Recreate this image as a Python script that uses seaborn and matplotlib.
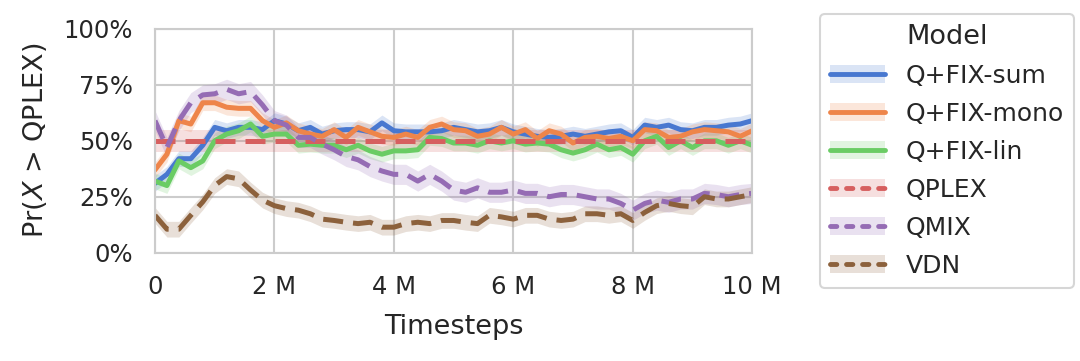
import numpy as np
import pandas as pd
import matplotlib
matplotlib.use("Agg")
import matplotlib.pyplot as plt
import seaborn as sns
from matplotlib.lines import Line2D
from matplotlib.patches import Patch
from matplotlib.ticker import FuncFormatter, PercentFormatter

# ---- data ----
timesteps_m = [round(0.2 * i, 1) for i in range(51)]  # millions

qfix_sum = [0.31, 0.35, 0.42, 0.42, 0.48, 0.56, 0.545, 0.56, 0.56, 0.55,
            0.59, 0.575, 0.545, 0.56, 0.53, 0.545, 0.55, 0.55, 0.54, 0.58,
            0.545, 0.54, 0.54, 0.54, 0.545, 0.56,
            0.55, 0.54, 0.545, 0.56, 0.54,
            0.53, 0.52, 0.515, 0.52, 0.53,
            0.52, 0.53, 0.54, 0.545, 0.515,
            0.57, 0.56, 0.57, 0.55, 0.545,
            0.56, 0.56, 0.57, 0.575, 0.59]
qfix_mono = [0.37, 0.44, 0.59, 0.575, 0.67, 0.67, 0.65, 0.645, 0.645, 0.59,
             0.56, 0.58, 0.545, 0.53, 0.52, 0.55, 0.515, 0.56, 0.54, 0.52,
             0.515, 0.53, 0.515, 0.56, 0.575, 0.55,
             0.545, 0.52, 0.53, 0.56, 0.53,
             0.55, 0.51, 0.545, 0.53, 0.49,
             0.515, 0.52, 0.51, 0.52, 0.50,
             0.55, 0.545, 0.515, 0.52, 0.54,
             0.55, 0.545, 0.54, 0.52, 0.545]
qfix_lin = [0.32, 0.30, 0.41, 0.38, 0.41, 0.50, 0.53, 0.545, 0.575, 0.52,
            0.53, 0.53, 0.48, 0.485, 0.48, 0.48, 0.46, 0.48, 0.455, 0.44,
            0.455, 0.455, 0.46, 0.515, 0.51, 0.49,
            0.49, 0.48, 0.50, 0.49, 0.50,
            0.485, 0.49, 0.485, 0.46, 0.445,
            0.46, 0.485, 0.46, 0.47, 0.44,
            0.50, 0.52, 0.47, 0.50, 0.47,
            0.50, 0.50, 0.48, 0.50, 0.48]
qplex = [0.50] * 51
qmix = [0.59, 0.47, 0.59, 0.67, 0.705, 0.71, 0.73, 0.71, 0.72, 0.66,
        0.59, 0.57, 0.515, 0.515, 0.485, 0.46, 0.43, 0.415, 0.385, 0.365,
        0.35, 0.35, 0.32, 0.35, 0.32, 0.28,
        0.27, 0.29, 0.27, 0.27, 0.28,
        0.265, 0.265, 0.25, 0.26, 0.26,
        0.25, 0.24, 0.24, 0.22, 0.19,
        0.22, 0.235, 0.225, 0.24, 0.24,
        0.265, 0.26, 0.25, 0.26, 0.265]
vdn = [0.167, 0.105, 0.105, 0.167, 0.227, 0.30, 0.34, 0.33, 0.28, 0.235,
       0.21, 0.197, 0.19, 0.174, 0.15, 0.144, 0.136, 0.13, 0.136, 0.114,
       0.114, 0.13, 0.136, 0.13, 0.144, 0.144,
       0.136, 0.13, 0.167, 0.16, 0.15,
       0.167, 0.167, 0.15, 0.144, 0.15,
       0.174, 0.174, 0.167, 0.174, 0.144,
       0.18, 0.21, 0.22, 0.21, 0.205,
       0.25, 0.24, 0.24, 0.25, 0.26]

models = ["Q+FIX-sum", "Q+FIX-mono", "Q+FIX-lin", "QPLEX", "QMIX", "VDN"]
series = [qfix_sum, qfix_mono, qfix_lin, qplex, qmix, vdn]
band_half = [0.035, 0.035, 0.035, 0.05, 0.045, 0.035]  # confidence band half-widths
is_dashed = [False, False, False, True, True, True]

# ---- long-form table: mean, lower, upper rows per step ----
rows = []
for m, vals, h in zip(models, series, band_half):
    for t, v in zip(timesteps_m, vals):
        for off in (0.0, -h, h):
            rows.append({"Timesteps": t * 1e6, "Pr": v + off, "Model": m})
df = pd.DataFrame(rows)

sns.set_theme(context="talk", style="whitegrid", palette="muted")
plt.rcParams["font.family"] = ["DejaVu Sans"]
palette = sns.color_palette("muted", 6)

fig = plt.figure(figsize=(10.8, 3.61), dpi=100)
ax = fig.add_axes([0.1435, 0.30, 0.553, 0.62])

sns.lineplot(data=df, x="Timesteps", y="Pr", hue="Model", style="Model",
             hue_order=models, style_order=models, palette=palette,
             dashes={m: ((4, 2) if d else "") for m, d in zip(models, is_dashed)},
             estimator="mean", errorbar=lambda v: (v.min(), v.max()),
             linewidth=3.6, err_kws={"alpha": 0.2, "linewidth": 0},
             legend=False, ax=ax)

ax.set_xlim(0, 10e6)
ax.set_ylim(0, 1)
ax.set_xticks([0, 2e6, 4e6, 6e6, 8e6, 10e6])
ax.set_yticks([0, 0.25, 0.5, 0.75, 1.0])
ax.xaxis.set_major_formatter(FuncFormatter(lambda x, p: "0" if x == 0 else f"{x/1e6:.0f} M"))
ax.yaxis.set_major_formatter(PercentFormatter(1.0, decimals=0))
ax.tick_params(axis="both", labelsize=17.5, length=0, pad=16)
ax.set_xlabel("Timesteps", fontsize=19.5, labelpad=11)
ax.set_ylabel("Pr($X$ > QPLEX)", fontsize=19.5, labelpad=10)
for s in ax.spines.values():
    s.set_color("#cccccc")
    s.set_linewidth(1.5)

handles = []
for m, c, d in zip(models, palette, is_dashed):
    patch = Patch(facecolor=c, alpha=0.2, edgecolor="none")
    line = Line2D([], [], color=c, linewidth=3.5, solid_capstyle="round",
                  dash_capstyle="round", linestyle=(0, (1.3, 2.0)) if d else "-")
    handles.append((patch, line))
leg = fig.legend(handles, models, title="Model", loc="upper left",
                 bbox_to_anchor=(0.748, 0.996), fontsize=18, title_fontsize=19.5,
                 handlelength=2.2, labelspacing=0.56, frameon=True)
leg.get_frame().set_edgecolor("#cccccc")

fig.savefig("out.png", dpi=100)
